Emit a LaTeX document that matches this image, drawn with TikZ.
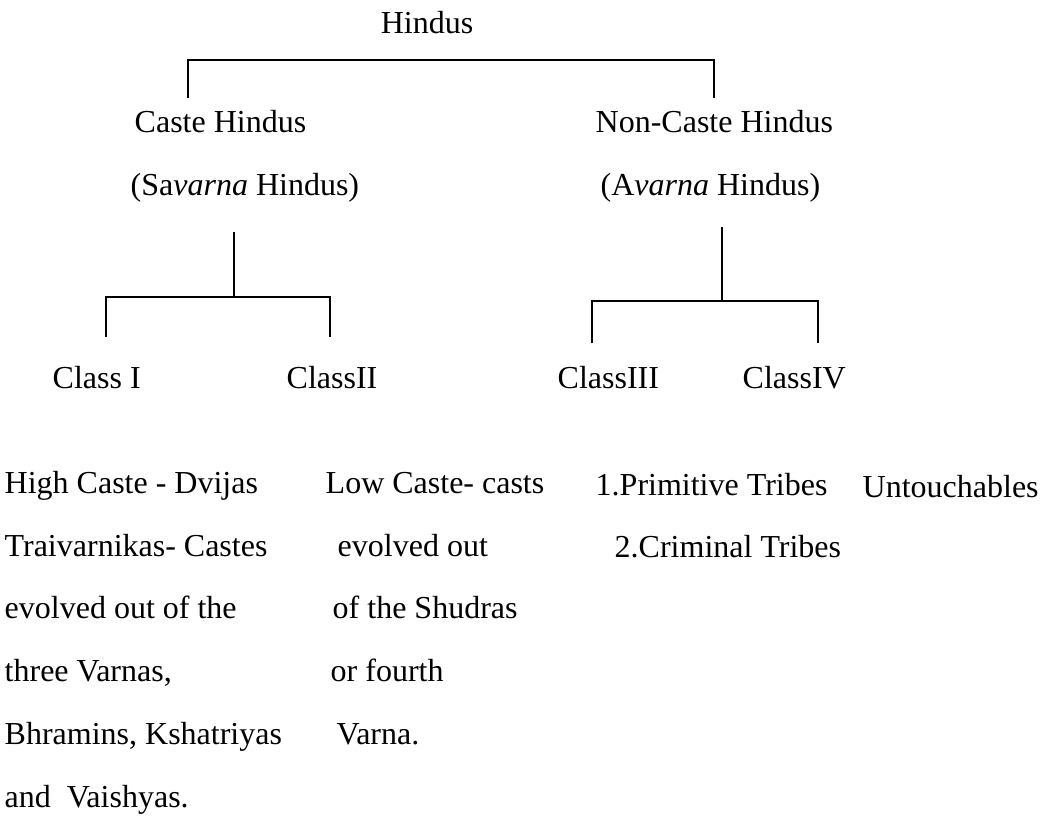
\documentclass[tikz,border=0pt]{standalone}
\usepackage{fontspec}
\setmainfont{Liberation Serif}
\begin{document}
\begin{tikzpicture}[x=0.5pt, y=-0.5pt, line width=0.7pt,
  txt/.style={anchor=base west, inner sep=0pt, font=\fontsize{16}{19}\selectfont}]
\useasboundingbox (0,0) rectangle (1047,831);

% top level
\node[txt, anchor=base] (hindus) at (427,33) {Hindus};
\node[txt] (caste) at (134,132) {Caste Hindus};
\node[txt] (savarna) at (130,195) {(Sa\textit{varna} Hindus)};
\node[txt] (noncaste) at (595,132) {Non-Caste Hindus};
\node[txt] (avarna) at (600,195) {(A\textit{varna} Hindus)};

\coordinate (topL) at (188,98);
\coordinate (topR) at (714,98);
\draw (topL) -- ++(0,-38) -| (topR);

% classes
\node[txt] (cI) at (52,388) {Class I};
\node[txt] (cII) at (286,388) {ClassII};
\node[txt] (cIII) at (557,388) {ClassIII};
\node[txt] (cIV) at (742,388) {ClassIV};

\coordinate (savB) at (234,232);
\coordinate (lowL1) at (106,337);
\coordinate (lowL2) at (330,337);
\draw (savB) -- ++(0,65);
\draw (lowL1) -- ++(0,-40) -| (lowL2);

\coordinate (avaB) at (722,227);
\coordinate (lowR1) at (592,343);
\coordinate (lowR2) at (818,343);
\draw (avaB) -- ++(0,74);
\draw (lowR1) -- ++(0,-42) -| (lowR2);

% descriptions
\node[txt] (h1) at (4,493) {High Caste - Dvijas};
\node[txt] (h2) at (4,556) {Traivarnikas- Castes};
\node[txt] (h3) at (4,618) {evolved out of the};
\node[txt] (h4) at (4,681) {three Varnas,};
\node[txt] (h5) at (4,744) {Bhramins, Kshatriyas};
\node[txt] (h6) at (4,807) {and\ \ Vaishyas.};

\node[txt] (l1) at (325,493) {Low Caste- casts};
\node[txt] (l2) at (337,556) {evolved out};
\node[txt] (l3) at (332,618) {of the Shudras};
\node[txt] (l4) at (330,681) {or fourth};
\node[txt] (l5) at (336,744) {Varna.};

\node[txt] (t1) at (595,495) {1.Primitive Tribes};
\node[txt] (t2) at (614,557) {2.Criminal Tribes};
\node[txt] (untouch) at (862,497) {Untouchables};

\end{tikzpicture}
\end{document}
